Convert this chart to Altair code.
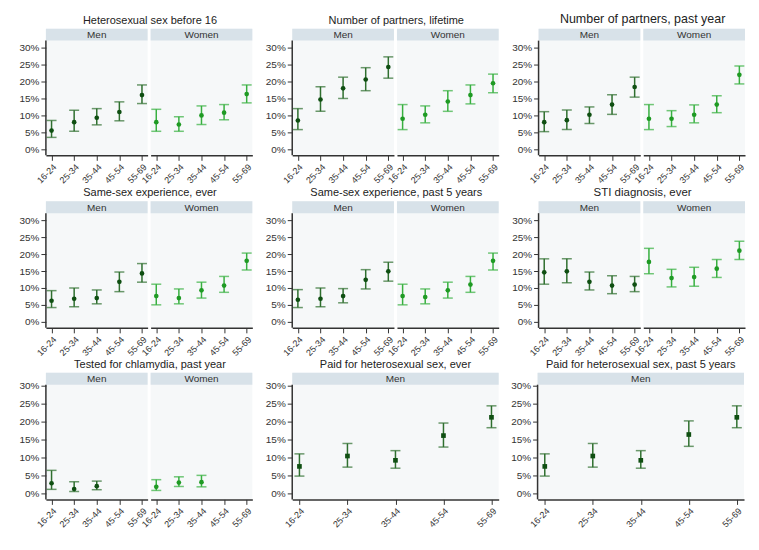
import altair as alt
import pandas as pd

AGES = ["16-24", "25-34", "35-44", "45-54", "55-69"]
AGES3 = ["16-24", "25-34", "35-44"]

TITLES = [
    "Heterosexual sex before 16",
    "Number of partners, lifetime",
    "Number of partners, past year",
    "Same-sex experience, ever",
    "Same-sex experience, past 5 years",
    "STI diagnosis, ever",
    "Tested for chlamydia, past year",
    "Paid for heterosexual sex, ever",
    "Paid for heterosexual sex, past 5 years",
]

# Estimates and 95% intervals (percent), Men
MEN_EST = [
    [5.5, 8.0, 9.3, 11.0, 16.0],
    [8.5, 14.7, 18.0, 20.6, 24.3],
    [8.0, 8.6, 10.2, 13.2, 18.4],
    [6.2, 6.8, 7.0, 11.8, 14.3],
    [6.5, 6.8, 7.6, 12.4, 14.9],
    [14.6, 14.9, 11.8, 10.7, 11.0],
    [2.8, 1.2, 2.0],
    [7.5, 10.4, 9.2, 16.1, 21.2],
    [7.5, 10.4, 9.2, 16.4, 21.2],
]
MEN_LO = [
    [3.5, 5.3, 7.2, 8.4, 13.5],
    [5.8, 11.2, 15.0, 17.3, 21.0],
    [5.2, 5.8, 7.6, 10.3, 15.4],
    [4.2, 4.4, 5.3, 8.9, 11.7],
    [4.2, 4.4, 5.6, 9.7, 12.0],
    [11.1, 11.5, 9.4, 8.3, 8.9],
    [1.1, 0.5, 1.0],
    [4.8, 7.3, 7.0, 12.9, 18.3],
    [4.8, 7.3, 7.0, 13.1, 18.3],
]
MEN_HI = [
    [8.5, 11.5, 12.0, 14.0, 19.0],
    [12.0, 18.5, 21.3, 24.1, 27.3],
    [11.1, 11.6, 12.5, 16.1, 21.3],
    [9.2, 10.0, 9.4, 14.7, 17.2],
    [9.5, 10.0, 9.8, 15.4, 17.6],
    [18.6, 18.6, 14.7, 13.6, 13.4],
    [6.4, 3.2, 3.4],
    [11.0, 13.9, 11.9, 19.6, 24.4],
    [11.0, 13.9, 11.9, 20.2, 24.4],
]

# Women (first seven panels only)
WOMEN_EST = [
    [8.0, 7.3, 10.0, 10.8, 16.3],
    [9.0, 10.2, 14.1, 16.0, 19.5],
    [9.0, 9.0, 10.2, 13.2, 22.0],
    [7.6, 7.0, 9.3, 10.7, 18.0],
    [7.6, 7.3, 9.3, 11.0, 18.0],
    [17.7, 12.9, 13.2, 15.7, 21.0],
    [1.8, 3.0, 3.1],
]
WOMEN_LO = [
    [5.3, 5.3, 7.3, 8.7, 13.7],
    [5.8, 7.8, 11.2, 13.4, 16.7],
    [5.8, 6.7, 7.8, 10.8, 19.3],
    [5.0, 5.3, 7.0, 8.7, 15.3],
    [5.0, 5.3, 7.0, 8.7, 15.3],
    [14.2, 10.3, 10.5, 13.1, 18.4],
    [0.8, 1.9, 1.8],
]
WOMEN_HI = [
    [11.8, 9.6, 12.8, 13.2, 19.0],
    [13.2, 12.8, 17.3, 19.0, 22.2],
    [13.2, 11.4, 13.1, 15.8, 24.6],
    [11.1, 9.7, 11.7, 13.4, 20.3],
    [11.1, 9.7, 11.7, 13.4, 20.3],
    [21.7, 15.5, 16.1, 18.4, 23.8],
    [3.8, 4.6, 5.0],
]

TITLE_SIZES = [11, 11, 12.5, 11, 11, 11.5, 11, 11, 11]
Y_TICKS = [0, 5, 10, 15, 20, 25, 30]

STRIP_FILL = "#d8e2e9"
PLOT_FILL = "#f6f8f9"
MEN_BAR, MEN_PT = "#2f6f2f", "#0f4f12"
WOM_BAR, WOM_PT = "#38b040", "#1f9a24"
TXT = "#333333"

SUB_W = 102
WIDE_W = 207
PLOT_H = 115
STRIP_H = 12
FONT = "Liberation Sans"


def sub_plot(label, ages, est, lo, hi, width, ydom, show_y, bar_c, pt_c, shape, pad):
    df = pd.DataFrame({"age": ages, "est": est, "lo": lo, "hi": hi})
    strip_df = pd.DataFrame({"sex": [label]})
    top = ydom[1] + (ydom[1] - ydom[0]) * STRIP_H / PLOT_H
    yscale = alt.Scale(domain=[ydom[0], top], zero=False, nice=False)
    xenc = alt.X(
        "age:O",
        scale=alt.Scale(type="point", domain=AGES, padding=pad),
        axis=alt.Axis(title=None, labelAngle=-45, labelFontSize=9, labelPadding=2),
    )
    if show_y:
        yaxis = alt.Axis(
            title=None, values=Y_TICKS, labelExpr="datum.value + '%'",
            labelFontSize=10, grid=False, domain=False,
        )
    else:
        yaxis = None
    base = alt.Chart(df)
    sbase = alt.Chart(strip_df)
    strip_rect = sbase.mark_rect(color=STRIP_FILL).encode(
        x=alt.value(0), x2=alt.value(width), y=alt.value(0), y2=alt.value(STRIP_H)
    )
    strip_txt = sbase.mark_text(fontSize=10, color=TXT, font=FONT, baseline="middle",
                                fontWeight="normal").encode(
        text="sex:N", x=alt.value(width / 2), y=alt.value(STRIP_H / 2 + 0.5)
    )
    rule = base.mark_rule(color=bar_c, strokeWidth=1.5).encode(
        x=xenc, y=alt.Y("lo:Q", scale=yscale, axis=yaxis), y2="hi:Q"
    )
    cap_lo = base.mark_tick(color=bar_c, size=10, thickness=1.5).encode(
        x=xenc, y=alt.Y("lo:Q", scale=yscale, axis=yaxis)
    )
    cap_hi = base.mark_tick(color=bar_c, size=10, thickness=1.5).encode(
        x=xenc, y=alt.Y("hi:Q", scale=yscale, axis=yaxis)
    )
    pts = base.mark_point(filled=True, color=pt_c, size=22, opacity=1, shape=shape).encode(
        x=xenc, y=alt.Y("est:Q", scale=yscale, axis=yaxis)
    )
    layers = [strip_rect, strip_txt, rule, cap_lo, cap_hi, pts]
    if show_y:
        yline = sbase.mark_rule(color=TXT, strokeWidth=1.5).encode(
            x=alt.value(0), y=alt.value(STRIP_H), y2=alt.value(STRIP_H + PLOT_H)
        )
        layers.append(yline)
    return alt.layer(*layers).properties(width=width, height=STRIP_H + PLOT_H)


def panel(i, ydom):
    ages = AGES3 if len(MEN_EST[i]) == 3 else AGES
    if i < 7:
        title = alt.TitleParams(
            TITLES[i], fontSize=TITLE_SIZES[i], font=FONT, color="#222222",
            fontWeight="normal", anchor="middle", offset=3, dx=14
        )
        men = sub_plot("Men", ages, MEN_EST[i], MEN_LO[i], MEN_HI[i], SUB_W, ydom, True,
                       MEN_BAR, MEN_PT, "circle", 0.25)
        wom = sub_plot("Women", ages, WOMEN_EST[i], WOMEN_LO[i], WOMEN_HI[i], SUB_W, ydom, False,
                       WOM_BAR, WOM_PT, "circle", 0.25)
        return alt.hconcat(men, wom, spacing=3, bounds="flush").properties(title=title)
    title = alt.TitleParams(
        TITLES[i], fontSize=TITLE_SIZES[i], font=FONT, color="#222222",
        fontWeight="normal", anchor="middle", offset=3
    )
    men = sub_plot("Men", ages, MEN_EST[i], MEN_LO[i], MEN_HI[i], WIDE_W, ydom, True,
                   MEN_BAR, MEN_PT, "square", 0.15)
    return men.properties(title=title)


DOM_A = [-1.8, 32.1]
DOM_B = [-1.7, 30.3]

row1 = alt.hconcat(panel(0, DOM_A), panel(1, DOM_A), panel(2, DOM_A), spacing=11)
row2 = alt.hconcat(panel(3, DOM_A), panel(4, DOM_A), panel(5, DOM_A), spacing=11)
row3 = alt.hconcat(panel(6, DOM_B), panel(7, DOM_B), panel(8, DOM_B), spacing=11)

chart = (
    alt.vconcat(row1, row2, row3, spacing=1)
    .properties(padding={"left": 10, "top": 4, "right": 5, "bottom": 5})
    .configure_view(fill=PLOT_FILL, strokeWidth=0)
    .configure_axis(
        domainColor=TXT, domainWidth=1.5, tickColor=TXT, tickSize=5, tickWidth=1,
        labelColor=TXT, labelFont=FONT,
    )
    .configure_title(font=FONT)
)

chart.save("out.html", embed_options={"renderer": "svg", "actions": False})
